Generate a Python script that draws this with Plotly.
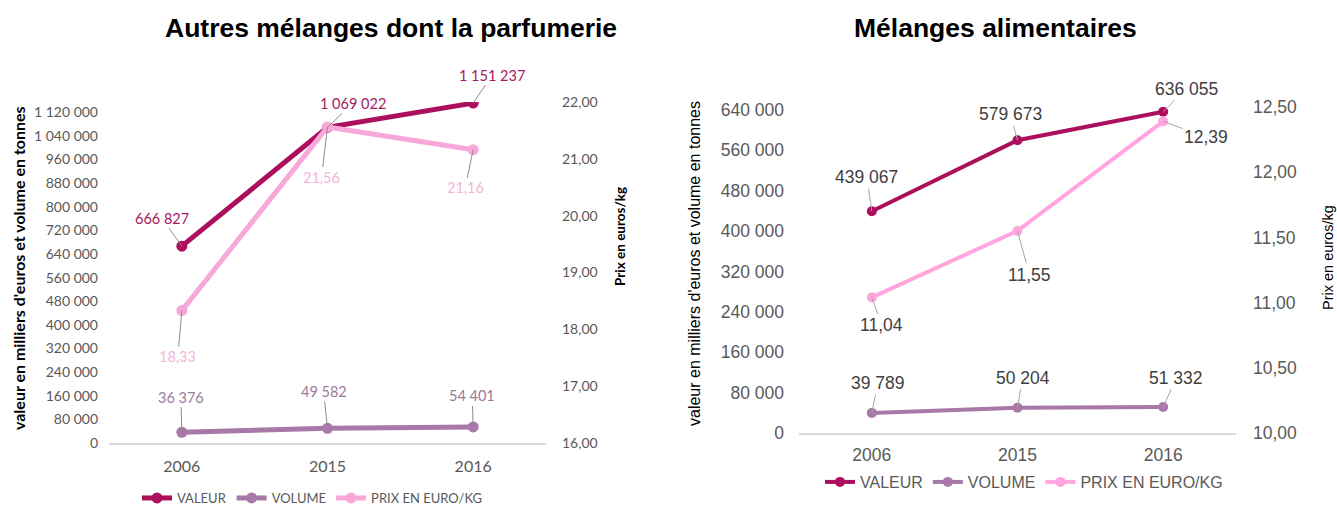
import plotly.graph_objects as go

# ---- data ----
years = ["2006", "2015", "2016"]

parf_valeur = [666827, 1069022, 1151237]
parf_volume = [36376, 49582, 54401]
parf_prix = [18.33, 21.56, 21.16]

alim_valeur = [439067, 579673, 636055]
alim_volume = [39789, 50204, 51332]
alim_prix = [11.04, 11.55, 12.39]

parf_val_ticks = list(range(0, 1120001, 80000))
parf_prix_ticks = [16, 17, 18, 19, 20, 21, 22]
alim_val_ticks = list(range(0, 640001, 80000))
alim_prix_ticks = [10.0, 10.5, 11.0, 11.5, 12.0, 12.5]

# ---- styling ----
W, H = 1337, 507
C_VAL = "#AC0F5E"
C_VOL = "#A778A8"
C_PRIX = "#FFA6DF"
C_PRIX_L = "#F7A8D9"
NARROW = "Lato, sans-serif"
ARIAL = "Liberation Sans, Arial, sans-serif"
GREY = "#595959"


def fmt_int(v):
    return f"{v:,}".replace(",", " ")


def fmt_dec(v):
    return f"{v:.2f}".replace(".", ",")


def px_x(p):
    return p / W


def px_y(p):
    return 1 - p / H


fig = go.Figure()

# left panel
fig.add_trace(go.Scatter(x=years, y=parf_valeur, name="VALEUR", mode="lines+markers",
                         line=dict(color=C_VAL, width=5), marker=dict(size=11, color=C_VAL),
                         xaxis="x", yaxis="y", legend="legend"))
fig.add_trace(go.Scatter(x=years, y=parf_volume, name="VOLUME", mode="lines+markers",
                         line=dict(color=C_VOL, width=5), marker=dict(size=11, color=C_VOL),
                         xaxis="x", yaxis="y", legend="legend"))
fig.add_trace(go.Scatter(x=years, y=parf_prix, name="PRIX EN EURO/KG", mode="lines+markers",
                         line=dict(color=C_PRIX_L, width=5), marker=dict(size=11, color=C_PRIX_L),
                         xaxis="x", yaxis="y2", legend="legend"))

# right panel
fig.add_trace(go.Scatter(x=years, y=alim_valeur, name="VALEUR", mode="lines+markers",
                         line=dict(color=C_VAL, width=4), marker=dict(size=10, color=C_VAL),
                         xaxis="x2", yaxis="y3", legend="legend2"))
fig.add_trace(go.Scatter(x=years, y=alim_volume, name="VOLUME", mode="lines+markers",
                         line=dict(color=C_VOL, width=4), marker=dict(size=10, color=C_VOL),
                         xaxis="x2", yaxis="y3", legend="legend2"))
fig.add_trace(go.Scatter(x=years, y=alim_prix, name="PRIX EN EURO/KG", mode="lines+markers",
                         line=dict(color=C_PRIX, width=4), marker=dict(size=10, color=C_PRIX),
                         xaxis="x2", yaxis="y4", legend="legend2"))

annotations = []


def label(xaxis, yaxis, xi, yv, text, ax, ay, color, font, size, line_color):
    # category axes: annotation x given as the category index
    annotations.append(dict(
        x=xi, y=yv, xref=xaxis, yref=yaxis, text=text,
        showarrow=True, arrowhead=0, arrowwidth=1, arrowcolor=line_color,
        ax=ax, ay=ay, standoff=0, startstandoff=0,
        font=dict(family=font, size=size, color=color)))


# left panel value labels
for i, (ax, ay) in enumerate([(-20, -28), (25, -24), (19, -28)]):
    label("x", "y", i, parf_valeur[i], fmt_int(parf_valeur[i]), ax, ay,
          "#A3195F", NARROW, 14.5, "#8C8C8C")
for i, (ax, ay) in enumerate([(-1, -35), (-4, -37), (-1, -31)]):
    label("x", "y", i, parf_volume[i], fmt_int(parf_volume[i]), ax, ay,
          "#9A7A9B", NARROW, 14.5, "#8C8C8C")
for i, (ax, ay) in enumerate([(-4, 46), (-6, 50), (-8, 38)]):
    label("x", "y2", i, parf_prix[i], fmt_dec(parf_prix[i]), ax, ay,
          "#F6B3DA", NARROW, 14.5, "#8C8C8C")

# right panel value labels
for i, (ax, ay) in enumerate([(-5, -34), (-7, -26), (23, -23)]):
    label("x2", "y3", i, alim_valeur[i], fmt_int(alim_valeur[i]), ax, ay,
          "#404040", ARIAL, 17.5, "#A6A6A6")
for i, (ax, ay) in enumerate([(6, -30), (5, -30), (13, -29)]):
    label("x2", "y3", i, alim_volume[i], fmt_int(alim_volume[i]), ax, ay,
          "#404040", ARIAL, 17.5, "#A6A6A6")
for i, (ax, ay) in enumerate([(10, 28), (12, 44), (43, 16)]):
    label("x2", "y4", i, alim_prix[i], fmt_dec(alim_prix[i]), ax, ay,
          "#404040", ARIAL, 17.5, "#A6A6A6")


def paper_text(xp, yp, text, font, size, angle=0):
    annotations.append(dict(x=px_x(xp), y=px_y(yp), xref="paper", yref="paper",
                            xanchor="center", yanchor="middle", showarrow=False,
                            textangle=angle, text=text,
                            font=dict(family=font, size=size, color="#000000")))


# titles
paper_text(391, 28, "<b>Autres mélanges dont la parfumerie</b>", ARIAL, 26.5)
paper_text(995, 28, "<b>Mélanges alimentaires</b>", ARIAL, 26.5)

# axis titles
paper_text(18, 268, "<b>valeur en milliers d'euros et volume en tonnes</b>", NARROW, 16, -90)
paper_text(620, 237, "<b>Prix en euros/kg</b>", NARROW, 13.5, -90)
paper_text(694, 264, "valeur en milliers d'euros et volume en tonnes", ARIAL, 16, -90)
paper_text(1328, 258, "Prix en euros/kg", ARIAL, 14.5, -90)

common_x = dict(type="category", range=[-0.5, 2.5], autorange=False, showgrid=False,
                showline=True, linecolor="#D9D9D9", linewidth=1.5, ticks="",
                zeroline=False, fixedrange=True)
common_y = dict(showgrid=False, showline=False, zeroline=False, ticks="", autorange=False)

fig.update_layout(
    width=W, height=H,
    margin=dict(l=0, r=0, t=0, b=0, autoexpand=False),
    paper_bgcolor="white", plot_bgcolor="white",
    separators=", ",
    xaxis=dict(domain=[px_x(109), px_x(546)], anchor="y", ticklabelstandoff=8,
               tickfont=dict(family=NARROW, size=16, color=GREY), **common_x),
    yaxis=dict(domain=[px_y(443), px_y(102)], anchor="x", range=[0, 1155000],
               tickvals=parf_val_ticks, tickformat=",d", ticklabelstandoff=10,
               tickfont=dict(family=NARROW, size=14, color=GREY), **common_y),
    yaxis2=dict(overlaying="y", side="right", anchor="x", range=[16, 22],
                tickvals=parf_prix_ticks, tickformat=".2f", ticklabelstandoff=15,
                tickfont=dict(family=NARROW, size=14, color=GREY), **common_y),
    xaxis2=dict(domain=[px_x(799), px_x(1236)], anchor="y3", ticklabelstandoff=5,
                tickfont=dict(family=ARIAL, size=17.5, color=GREY), **common_x),
    yaxis3=dict(domain=[px_y(433), px_y(107)], anchor="x2", range=[0, 645500],
                tickvals=alim_val_ticks, tickformat=",d", ticklabelstandoff=14,
                tickfont=dict(family=ARIAL, size=17.5, color=GREY), **common_y),
    yaxis4=dict(overlaying="y3", side="right", anchor="x2", range=[10, 12.5],
                tickvals=alim_prix_ticks, tickformat=".2f", ticklabelstandoff=16,
                tickfont=dict(family=ARIAL, size=17.5, color=GREY), **common_y),
    legend=dict(orientation="h", x=px_x(137), y=px_y(498), xanchor="left", yanchor="middle",
                font=dict(family=NARROW, size=13, color=GREY), bgcolor="rgba(0,0,0,0)",
                itemwidth=30, tracegroupgap=0),
    legend2=dict(orientation="h", x=px_x(820), y=px_y(482), xanchor="left", yanchor="middle",
                 font=dict(family=ARIAL, size=16, color=GREY), bgcolor="rgba(0,0,0,0)",
                 itemwidth=30, tracegroupgap=0),
    annotations=annotations,
    showlegend=True,
)

fig.write_html("out.html")
